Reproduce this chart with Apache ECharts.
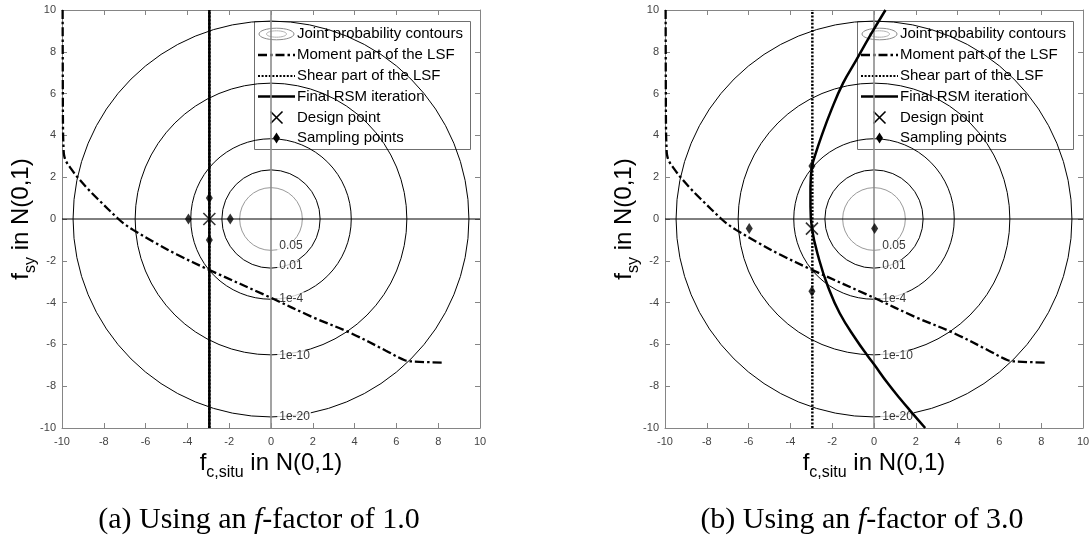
<!DOCTYPE html>
<html>
<head>
<meta charset="utf-8">
<script src="https://cdn.jsdelivr.net/npm/echarts@6/dist/echarts.min.js"></script>
<style>
  html, body { margin: 0; padding: 0; background: #fff; }
  #chart { width: 1091px; height: 543px; }
</style>
</head>
<body>
<div id="chart"></div>
<script>
// ---- axis range (standard normal space) ----
const AXIS_MIN = -10;
const AXIS_MAX = 10;
const AXIS_STEP = 2;

// ---- joint probability contours: level text and ring radius ----
const contourLevels = ['0.05', '0.01', '1e-4', '1e-10', '1e-20'];
const contourRadii = [1.5, 2.35, 3.84, 6.5, 9.47];
const contourColors = ['#9a9a9a', '#000000', '#000000', '#000000', '#000000'];
// anchor of each in-line level label
const contourLabelX = [0.3, 0.3, 0.3, 0.3, 0.3];
const contourLabelY = [-1.28, -2.25, -3.79, -6.55, -9.46];

// ---- moment part of the limit state function (same in both panels) ----
const momentLSF = [
  [-9.97, 10], [-9.96, 6], [-9.95, 4.2], [-9.93, 3.5], [-9.9, 3.05],
  [-9.8, 2.75], [-9.6, 2.45], [-9.3, 2.05], [-8.8, 1.48], [-8.3, 0.97],
  [-7.3, 0.0], [-7.0, -0.25], [-6.6, -0.52], [-5.6, -1.1], [-4.5, -1.7],
  [-2.97, -2.43], [0.0, -3.77], [2.0, -4.7], [3.8, -5.45], [5.5, -6.3],
  [6.4, -6.76], [6.8, -6.82], [8.25, -6.87]
];

// ---- shear part of the limit state function ----
const shearLSF = [[-2.95, -10], [-2.95, 10]];

// ---- final RSM iteration ----
const rsmA = [[-2.95, -10], [-2.95, 10]];
const rsmB = [
  [0.55, 10], [-0.2, 8.75], [-0.85, 7.6], [-1.48, 6.5], [-2.04, 5.22],
  [-2.52, 3.94], [-2.84, 2.98], [-2.97, 2.5], [-3.04, 1.55], [-3.04, 0.6],
  [-2.97, -0.45], [-2.62, -1.96], [-2.2, -3.24], [-1.64, -4.51], [-0.84, -5.79],
  [-0.3, -6.55], [0.0, -6.95], [0.65, -7.85], [1.25, -8.6], [1.8, -9.25],
  [2.45, -10]
];

// ---- design points and sampling points ----
const designA = [[-2.95, 0]];
const samplingA = [[-3.95, 0], [-1.95, 0], [-2.95, 1], [-2.95, -1]];
const designB = [[-2.97, -0.46]];
const samplingB = [[-5.97, -0.46], [0.03, -0.46], [-2.97, 2.54], [-2.97, -3.46]];

// ---- reference lines through the origin ----
const zeroH = [[AXIS_MIN, 0], [AXIS_MAX, 0]];
const zeroV = [[0, AXIS_MIN], [0, AXIS_MAX]];

// ---- text ----
const legendNames = [
  'Joint probability contours', 'Moment part of the LSF', 'Shear part of the LSF',
  'Final RSM iteration', 'Design point', 'Sampling points'
];
const captions = ['(a) Using an ', '(b) Using an '];
const captionTails = ['-factor of 1.0', '-factor of 3.0'];

// ---- layout ----
const PANEL_LEFT = [62, 665];
const PANEL_TOP = 10;
const PANEL_SIZE = 418;
const AXIS_GREY = '#858585';
const FONT = 'Liberation Sans, Arial, sans-serif';

const MOMENT_STYLE = { color: '#000', width: 2.3, type: [9, 3, 2.5, 3] };
const SHEAR_STYLE = { color: '#000', width: 2.5, type: [2, 1.6] };
const RSM_STYLE = { color: '#000', width: 2.5, type: 'solid' };
const X_SYMBOL = 'path://M0 0L10 10M10 0L0 10';

const chart = echarts.init(document.getElementById('chart'), null, { renderer: 'canvas' });

function baseAxis(gridIndex, position, showLabel) {
  return {
    type: 'value', gridIndex, position,
    min: AXIS_MIN, max: AXIS_MAX, interval: AXIS_STEP,
    axisLine: { show: true, onZero: false, lineStyle: { color: AXIS_GREY, width: 1 } },
    axisTick: { show: true, inside: true, length: 5, lineStyle: { color: AXIS_GREY, width: 1 } },
    splitLine: { show: false },
    axisLabel: {
      show: showLabel, color: '#444', fontSize: 11, fontFamily: FONT,
      margin: position === 'bottom' ? 8 : 6
    }
  };
}

const grids = [];
const xAxes = [];
const yAxes = [];
PANEL_LEFT.forEach((left, g) => {
  grids.push({ left, top: PANEL_TOP, width: PANEL_SIZE, height: PANEL_SIZE,
    containLabel: false, outerBoundsMode: 'none' });
  xAxes.push(baseAxis(g, 'bottom', true), baseAxis(g, 'top', false));
  yAxes.push(baseAxis(g, 'left', true), baseAxis(g, 'right', false));
});

function contourRings(ax) {
  return {
    type: 'custom', xAxisIndex: ax, yAxisIndex: ax, z: 1, silent: true,
    data: contourRadii.map((r, i) => [0, 0, r, i]),
    encode: { x: 0, y: 1 },
    renderItem(params, api) {
      const c = api.coord([api.value(0), api.value(1)]);
      const r = api.size([api.value(2), 0])[0];
      return {
        type: 'circle',
        shape: { cx: c[0], cy: c[1], r },
        style: { fill: 'none', stroke: contourColors[api.value(3)], lineWidth: 1 }
      };
    }
  };
}

function contourText(ax) {
  return {
    type: 'scatter', xAxisIndex: ax, yAxisIndex: ax, z: 3, silent: true,
    symbolSize: 0,
    data: contourLevels.map((t, i) => ({ name: t, value: [contourLabelX[i], contourLabelY[i]] })),
    label: {
      show: true, position: 'right', distance: 0, formatter: '{b}',
      color: '#000', fontSize: 12, fontFamily: FONT,
      backgroundColor: '#fff', padding: [0, 1, 0, 2]
    }
  };
}

function lineSeries(ax, data, style, z, smooth) {
  return {
    type: 'line', xAxisIndex: ax, yAxisIndex: ax, z, silent: true,
    data, symbol: 'none', smooth: smooth || false, lineStyle: style
  };
}

function pointSeries(ax, data, symbol, size, itemStyle) {
  return {
    type: 'scatter', xAxisIndex: ax, yAxisIndex: ax, z: 6, silent: true,
    data, symbol, symbolSize: size, itemStyle
  };
}

function panelSeries(g, rsm, rsmSmooth, design, sampling) {
  const ax = g * 2;
  return [
    contourRings(ax),
    lineSeries(ax, zeroV, { color: '#8c8c8c', width: 1.6 }, 2),
    lineSeries(ax, zeroH, { color: '#000', width: 1 }, 2),
    contourText(ax),
    lineSeries(ax, momentLSF, MOMENT_STYLE, 4, 0.35),
    lineSeries(ax, shearLSF, SHEAR_STYLE, 4),
    lineSeries(ax, rsm, RSM_STYLE, 5, rsmSmooth),
    pointSeries(ax, sampling, 'diamond', [7, 11], { color: '#000' }),
    pointSeries(ax, design, X_SYMBOL, 12, { color: 'rgba(0,0,0,0)', borderColor: '#000', borderWidth: 1.6 })
  ];
}

const series = [
  ...panelSeries(0, rsmA, false, designA, samplingA),
  ...panelSeries(1, rsmB, 0.45, designB, samplingB)
];

// ---- legend boxes, axis titles and captions ----
function legendGroup(ox) {
  const x0 = 254 + ox, y0 = 21, w = 216, h = 128;
  const rows = [33.5, 55, 76, 96.5, 117.5, 138];
  const ix1 = x0 + 4, ix2 = x0 + 41, icx = x0 + 22.5, tx = x0 + 43;
  const els = [
    { type: 'rect', shape: { x: x0 + 0.5, y: y0 + 0.5, width: w, height: h },
      style: { fill: '#fff', stroke: '#6f6f6f', lineWidth: 1 } },
    { type: 'ellipse', shape: { cx: icx, cy: rows[0] + 0.5, rx: 17.5, ry: 5.8 },
      style: { fill: 'none', stroke: '#8a8a8a', lineWidth: 1 } },
    { type: 'ellipse', shape: { cx: icx, cy: rows[0] + 0.5, rx: 10, ry: 3.2 },
      style: { fill: 'none', stroke: '#b0b0b0', lineWidth: 1 } },
    { type: 'line', shape: { x1: ix1, y1: rows[1], x2: ix2, y2: rows[1] },
      style: { stroke: '#000', lineWidth: 2.3, lineDash: [9, 3, 2.5, 3] } },
    { type: 'line', shape: { x1: ix1, y1: rows[2], x2: ix2, y2: rows[2] },
      style: { stroke: '#000', lineWidth: 2, lineDash: [2, 1.6] } },
    { type: 'line', shape: { x1: ix1, y1: rows[3], x2: ix2, y2: rows[3] },
      style: { stroke: '#000', lineWidth: 2.5 } },
    { type: 'line', shape: { x1: icx - 6, y1: rows[4] - 6, x2: icx + 6, y2: rows[4] + 6 },
      style: { stroke: '#000', lineWidth: 1.6 } },
    { type: 'line', shape: { x1: icx + 6, y1: rows[4] - 6, x2: icx - 6, y2: rows[4] + 6 },
      style: { stroke: '#000', lineWidth: 1.6 } },
    { type: 'polygon', shape: { points: [[icx, rows[5] - 5.5], [icx + 3.5, rows[5]], [icx, rows[5] + 5.5], [icx - 3.5, rows[5]]] },
      style: { fill: '#000' } }
  ];
  legendNames.forEach((name, i) => {
    els.push({ type: 'text', x: tx, y: rows[i],
      style: { text: name, fontSize: 15, fontFamily: FONT, fill: '#000', align: 'left', verticalAlign: 'middle' } });
  });
  return { type: 'group', z: 100, children: els };
}

// main text sits at the top of the line, the subscript at its bottom
const titleRich = {
  m: { fontSize: 24, fontFamily: FONT, fill: '#000', lineHeight: 24, verticalAlign: 'top' },
  s: { fontSize: 16, fontFamily: FONT, fill: '#000', lineHeight: 30, verticalAlign: 'bottom' }
};

function axisTitles(ox) {
  return [
    { type: 'text', z: 100, x: 271 + ox, y: 451,
      style: { text: '{m|f}{s|c,situ}{m| in N(0,1)}', rich: titleRich, align: 'center', verticalAlign: 'top' } },
    { type: 'text', z: 100, x: 9 + ox, y: 219, rotation: Math.PI / 2,
      style: { text: '{m|f}{s|sy}{m| in N(0,1)}', rich: titleRich, align: 'center', verticalAlign: 'top' } }
  ];
}

const captionRich = {
  r: { fontSize: 30, fontFamily: 'Liberation Serif, Times New Roman, serif', fill: '#000' },
  i: { fontSize: 30, fontFamily: 'Liberation Serif, Times New Roman, serif', fontStyle: 'italic', fill: '#000' }
};

const graphics = [];
[0, 603].forEach((ox, k) => {
  graphics.push(legendGroup(ox));
  graphics.push(...axisTitles(ox));
  graphics.push({ type: 'text', z: 100, x: 259 + ox, y: 520,
    style: { text: '{r|' + captions[k] + '}{i|f}{r|' + captionTails[k] + '}', rich: captionRich,
      align: 'center', verticalAlign: 'middle' } });
});

chart.setOption({
  animation: false,
  backgroundColor: '#fff',
  grid: grids,
  xAxis: xAxes,
  yAxis: yAxes,
  series,
  graphic: { elements: graphics }
});
</script>
</body>
</html>
